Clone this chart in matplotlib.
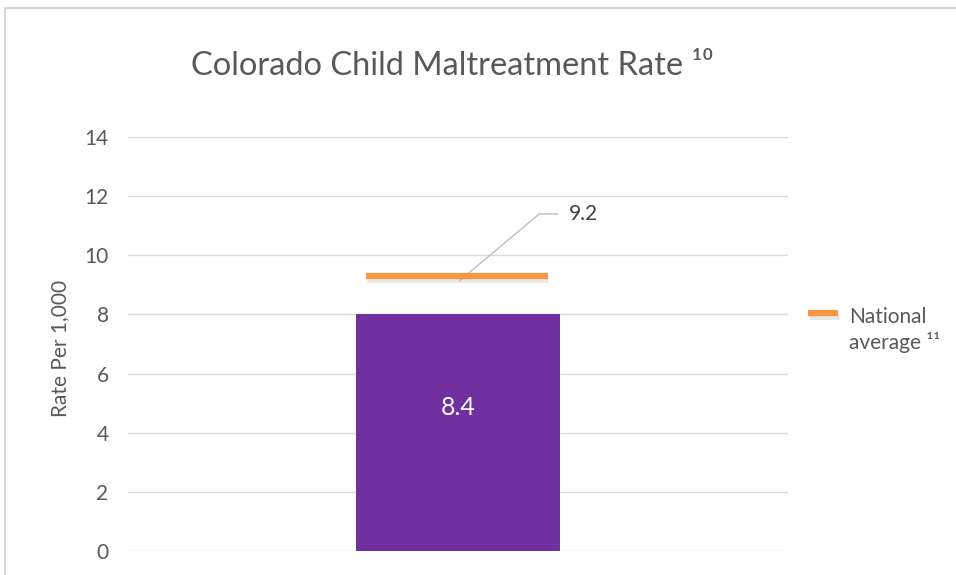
import matplotlib
matplotlib.use("Agg")
import matplotlib.pyplot as plt
from matplotlib.patches import Rectangle
import matplotlib.patheffects as pe

plt.rcParams['font.family'] = ['Lato', 'DejaVu Sans']

categories = ["Colorado"]
bar_values = [8.0]
bar_labels = ["8.4"]
national_value = 9.3
national_label = "9.2"
yticks = [0, 2, 4, 6, 8, 10, 12, 14]
title = "Colorado Child Maltreatment Rate \u00b9\u2070"
ylabel = "Rate Per 1,000"
legend_label = "National\naverage \u00b9\u00b9"

W, H = 956, 575
fig = plt.figure(figsize=(W / 100, H / 100), dpi=100)
fig.patch.set_facecolor("white")

# outer frame
fig.add_artist(Rectangle((5 / W, -0.1), 1.2, (H - 8) / H + 0.1, transform=fig.transFigure,
                         fill=False, ec="#d9d9d9", lw=1.5))

shadow = [pe.SimpleLineShadow(offset=(0.5, -2.5), shadow_color="#7f7f7f", alpha=0.18, linewidth=5),
          pe.Normal()]

ax = fig.add_axes([128 / W, (H - 551) / H, (788 - 128) / W, (551 - 137) / H])
ax.set_xlim(-0.5, 0.5)
ax.set_ylim(0, 14)
ax.set_yticks(yticks)
ax.tick_params(axis="y", length=0, pad=14, labelsize=15, labelcolor="#595959")
ax.set_xticks([])
for s in ax.spines.values():
    s.set_visible(False)
ax.grid(axis="y", color="#d9d9d9", lw=1)
ax.set_axisbelow(True)

bars = ax.bar(range(len(categories)), bar_values, width=0.31, color="#7030a0", zorder=3)
for b, lab in zip(bars, bar_labels):
    ax.text(b.get_x() + b.get_width() / 2, 4.85, lab, ha="center", va="center",
            color="white", fontsize=18)

ax.plot([-0.139, 0.136], [national_value, national_value], color="#f79646", lw=4.5,
        solid_capstyle="butt", zorder=4, path_effects=shadow)

# leader line and data label
ax.annotate(national_label, xy=(0.003, national_value - 0.15), xytext=(0.168, 11.4),
            fontsize=15, color="#404040", va="center", ha="left",
            arrowprops=dict(arrowstyle="-", color="#bfbfbf", lw=1,
                            connectionstyle="angle,angleA=0,angleB=40,rad=0",
                            shrinkA=6, shrinkB=0))

ax.set_ylabel(ylabel, fontsize=15, color="#595959")
ax.yaxis.set_label_coords(-58 / 660, 0.49)

fig.text(452 / W, 1 - 66 / H, title, ha="center", va="center", fontsize=23.5, color="#595959")

# legend
fig.add_artist(plt.Line2D([808 / W, 838 / W], [1 - 313 / H, 1 - 313 / H], transform=fig.transFigure,
                          color="#f79646", lw=4.5, solid_capstyle="butt", path_effects=shadow))
fig.text(849 / W, 1 - 330 / H, legend_label, ha="left", va="center", fontsize=15, color="#595959",
         linespacing=1.25)

fig.savefig("out.png", dpi=100, facecolor="white")
